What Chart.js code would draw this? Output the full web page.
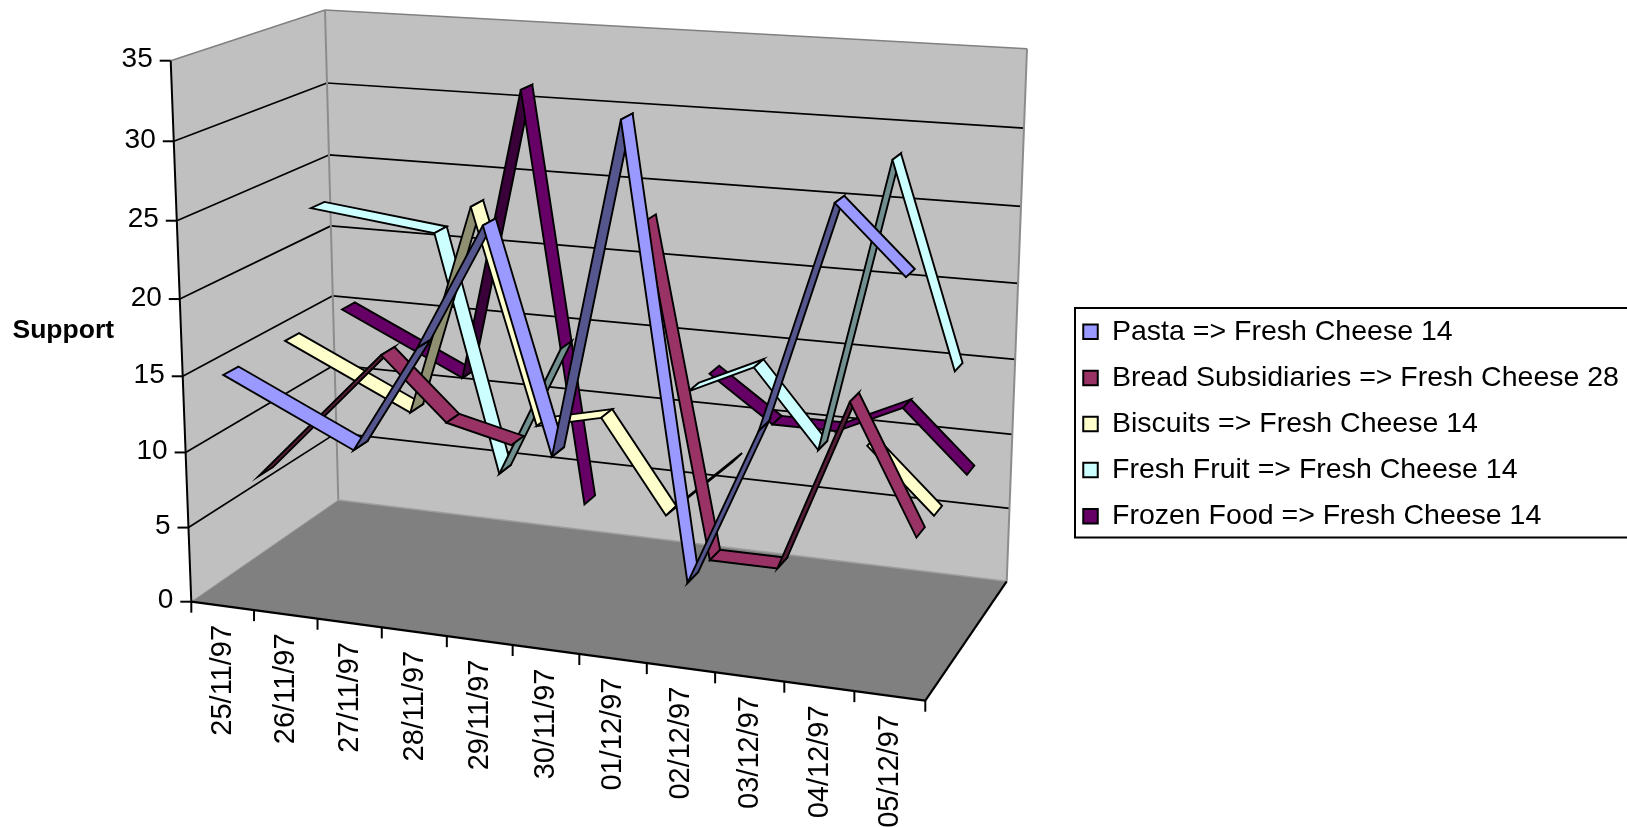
<!DOCTYPE html>
<html>
<head>
<meta charset="utf-8">
<script src="https://cdn.jsdelivr.net/npm/chart.js@4"></script>
<style>
  html, body { margin: 0; padding: 0; background: #fff; }
  canvas { display: block; }
</style>
</head>
<body>
<canvas id="supportChart" width="1627" height="827"></canvas>
<script>
const dates = ['25/11/97', '26/11/97', '27/11/97', '28/11/97', '29/11/97', '30/11/97',
               '01/12/97', '02/12/97', '03/12/97', '04/12/97', '05/12/97'];
const seriesNames = ['Pasta => Fresh Cheese 14', 'Bread Subsidiaries => Fresh Cheese 28',
                     'Biscuits => Fresh Cheese 14', 'Fresh Fruit => Fresh Cheese 14',
                     'Frozen Food => Fresh Cheese 14'];
const seriesColors = ['#9999FF', '#993366', '#FFFFCC', '#CCFFFF', '#660066'];
const pasta   = [15, null, 11, 18, 26, 12, 33, 5, 15, 29, 25];
const bread   = [7, null, 16, 12, 11, null, 26, 5, 5, 16, 8];
const biscuits = [15, null, 11, 25, 11, 12, 6, 10, null, 12, 8];
const fruit   = [23, null, 22, 6, 15, null, 13, 15, 10, 29, 16];
const frozen  = [15, null, 11, 31, 3, null, 13, 10, 10, 12, 8];
const allSeries = [pasta, bread, biscuits, fruit, frozen];

// corners of the 3d box on the page, F/B front/back, L/R left/right, B/T bottom/top
const box = {
  FLB: [191.3, 601.7], FRB: [925.3, 700.7], BLB: [338.3, 500], BRB: [1006.7, 581.3],
  FLT: [170.7, 60.7],  FRT: [943, 110],     BLT: [325, 10],    BRT: [1027, 48.8]
};
const ribbonDepth = 0.095;
const font = '"Liberation Sans", Arial, sans-serif';
const legendFontSize = 28.5, legendBox = 14.5, legendPadding = 17.6;

function warp(t, q) { return t / (t + q * (1 - t)); }

function mix(a, b, t) { return [a[0] + (b[0] - a[0]) * t, a[1] + (b[1] - a[1]) * t]; }

// tx, ty, tz all 0..1, perspective is faked with a warp on each axis
function project(tx, ty, tz) {
  const x = warp(tx, 1.07), y = warp(ty, 1.05), z = warp(tz, 0.9);
  const bottom = mix(mix(box.FLB, box.FRB, x), mix(box.BLB, box.BRB, x), z);
  const top = mix(mix(box.FLT, box.FRT, x), mix(box.BLT, box.BRT, x), z);
  return mix(bottom, top, y);
}

function poly(ctx, pts, fill, stroke, width) {
  ctx.beginPath();
  pts.forEach((p, i) => i ? ctx.lineTo(p[0], p[1]) : ctx.moveTo(p[0], p[1]));
  ctx.closePath();
  if (fill) { ctx.fillStyle = fill; ctx.fill(); }
  if (stroke) { ctx.strokeStyle = stroke; ctx.lineWidth = width; ctx.stroke(); }
}

function line(ctx, a, b, color, width) {
  ctx.beginPath();
  ctx.moveTo(a[0], a[1]);
  ctx.lineTo(b[0], b[1]);
  ctx.strokeStyle = color;
  ctx.lineWidth = width;
  ctx.stroke();
}

function darken(hex, k) {
  const n = parseInt(hex.slice(1), 16);
  const c = [n >> 16, (n >> 8) & 255, n & 255].map(v => Math.round(v * k));
  return 'rgb(' + c.join(',') + ')';
}

function area(pts) {
  let s = 0;
  pts.forEach((p, i) => {
    const q = pts[(i + 1) % pts.length];
    s += p[0] * q[1] - q[0] * p[1];
  });
  return s / 2;
}

const box3d = {
  id: 'box3d',
  afterLayout(chart) {
    // legend text has to start at x=1112, runs past the usual right margin
    const legend = chart.legend;
    const dx = 1112 - (legend.left + legendPadding + legendBox + legendFontSize / 2);
    legend.left += dx;
    legend.right += dx;
  },
  beforeDatasetsDraw(chart) {
    const ctx = chart.ctx, xs = chart.scales.x, ys = chart.scales.y;
    const tx = v => (xs.getPixelForValue(v) - xs.left) / xs.width;
    const ty = v => (ys.bottom - ys.getPixelForValue(v)) / ys.height;
    ctx.save();
    ctx.lineJoin = 'miter';

    // walls and floor
    poly(ctx, [box.FLB, box.FRB, box.BRB, box.BLB], '#808080');
    poly(ctx, [box.FLB, box.FLT, box.BLT, box.BLB], '#C0C0C0');
    poly(ctx, [box.BLB, box.BLT, box.BRT, box.BRB], '#C0C0C0');

    // gridlines
    ys.ticks.forEach(t => {
      if (t.value === ys.min || t.value === ys.max) return;
      const y = ty(t.value);
      line(ctx, project(0, y, 0), project(0, y, 1), '#000', 1.7);
      line(ctx, project(0, y, 1), project(1, y, 1), '#000', 1.7);
    });

    // wall edges
    line(ctx, box.BLB, box.BLT, '#8C8C8C', 2);
    line(ctx, box.BRB, box.BRT, '#8C8C8C', 2);
    line(ctx, box.FLT, box.BLT, '#808080', 1.5);
    line(ctx, box.BLT, box.BRT, '#808080', 1.5);
    line(ctx, box.FLB, box.BLB, '#9A9A9A', 1);
    line(ctx, box.BLB, box.BRB, '#9E9E9E', 1.5);

    // axes
    line(ctx, box.FLB, box.FLT, '#000', 2);
    line(ctx, box.FLB, box.FRB, '#000', 2.2);
    line(ctx, box.FRB, box.BRB, '#000', 2.2);

    // y ticks and labels
    ctx.fillStyle = '#000';
    ctx.font = '28px ' + font;
    ctx.textAlign = 'right';
    ctx.textBaseline = 'middle';
    ys.ticks.forEach(t => {
      const p = project(0, ty(t.value), 0);
      line(ctx, [p[0] - 11, p[1]], p, '#000', 2);
      ctx.fillText(String(t.value), p[0] - 18, p[1] - 1);
    });

    // x ticks and labels
    ctx.font = '29px ' + font;
    dates.forEach((d, i) => {
      const p = project(tx(i), 0, 0);
      ctx.save();
      ctx.translate(p[0] + 0.5, p[1] + 19);
      ctx.rotate(-Math.PI / 2);
      ctx.fillText(d, 0, 0);
      ctx.restore();
    });
    for (let k = 0; k <= dates.length; k++) {
      const p = project(tx(k - 0.5), 0, 0);
      line(ctx, p, [p[0], p[1] + 11], '#000', 2);
    }

    ctx.font = 'bold 26.5px ' + font;
    ctx.textAlign = 'left';
    ctx.fillText('Support', 12.5, 331);

    // ribbons, back series first. a day empty in every series is stepped over
    const days = dates.map((d, i) => i).filter(i => allSeries.some(s => s[i] !== null));
    for (let d = chart.data.datasets.length - 1; d >= 0; d--) {
      const values = chart.data.datasets[d].data;
      const z = (d + 0.5) / chart.data.datasets.length;
      const near = z - ribbonDepth / 2, far = z + ribbonDepth / 2;
      for (let n = 0; n < days.length - 1; n++) {
        const a = days[n], b = days[n + 1];
        if (values[a] === null || values[b] === null) continue;
        const quad = [
          project(tx(a), ty(values[a]), near), project(tx(b), ty(values[b]), near),
          project(tx(b), ty(values[b]), far), project(tx(a), ty(values[a]), far)
        ];
        const color = seriesColors[d];
        poly(ctx, quad, area(quad) < 0 ? color : darken(color, 0.56), '#000', 1.9);
      }
    }
    ctx.restore();
  },
  afterDraw(chart) {
    const ctx = chart.ctx;
    ctx.save();
    ctx.strokeStyle = '#000';
    ctx.lineWidth = 2;
    ctx.strokeRect(1075, 308, 560, 229.5);
    ctx.restore();
  }
};

new Chart(document.getElementById('supportChart'), {
  type: 'line',
  data: {
    labels: dates,
    datasets: allSeries.map((values, i) => ({
      label: seriesNames[i],
      data: values,
      backgroundColor: seriesColors[i],
      borderColor: '#000',
      borderWidth: 2,
      showLine: false,
      pointRadius: 0
    }))
  },
  options: {
    responsive: false,
    animation: false,
    layout: { padding: { top: 21 } },
    scales: {
      x: { type: 'category', offset: true, display: false },
      y: { min: 0, max: 35, ticks: { stepSize: 5 }, display: false }
    },
    plugins: {
      tooltip: { enabled: false },
      title: { display: false },
      legend: {
        position: 'right',
        labels: {
          boxWidth: legendBox,
          boxHeight: legendBox,
          padding: legendPadding,
          color: '#000',
          font: { family: font, size: legendFontSize }
        }
      }
    }
  },
  plugins: [box3d]
});
</script>
</body>
</html>
